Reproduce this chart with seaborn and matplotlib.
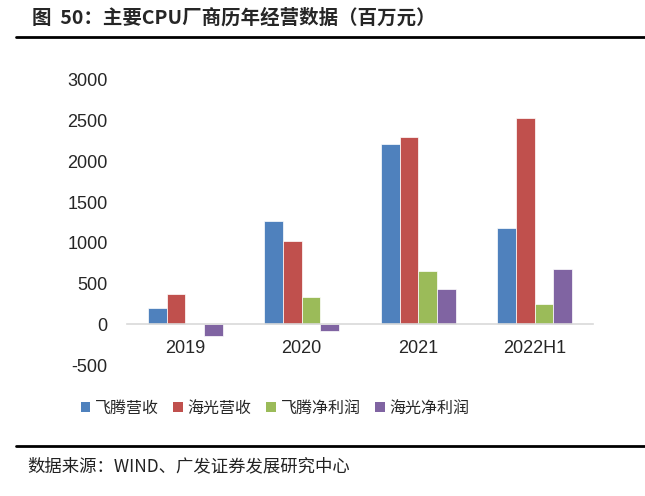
import numpy as np
import pandas as pd
import seaborn as sns
import matplotlib.pyplot as plt
from matplotlib.patches import Patch

# values in 百万元
periods = ["2019", "2020", "2021", "2022H1"]
series = ["飞腾营收", "海光营收", "飞腾净利润", "海光净利润"]
ft_rev = [200, 1270, 2210, 1180]
hg_rev = [375, 1020, 2300, 2530]
ft_np = [np.nan, 335, 650, 245]
hg_np = [-140, -85, 430, 680]
yticks = [-500, 0, 500, 1000, 1500, 2000, 2500, 3000]

colors = ["#4F81BD", "#C0504D", "#9BBB59", "#8064A2"]

sns.set_style("white")
plt.rcParams["font.family"] = ["Liberation Sans", "Noto Sans CJK SC", "DejaVu Sans"]

rows = []
for name, vals in zip(series, [ft_rev, hg_rev, ft_np, hg_np]):
    for p, v in zip(periods, vals):
        rows.append({"period": p, "series": name, "value": v})
df = pd.DataFrame(rows).dropna()

fig = plt.figure(figsize=(6.45, 4.96), dpi=100)
ax = fig.add_axes([127 / 645, 1 - 365 / 496, 466 / 645, 285 / 496])

sns.barplot(data=df, x="period", y="value", hue="series", order=periods,
            hue_order=series, palette=colors, saturation=1, width=0.64, ax=ax,
            edgecolor="white", linewidth=0.5, errorbar=None, legend=False)

ax.set_ylim(-500, 3000)
ax.set_xlim(-0.5, 3.5)
ax.set_yticks(yticks)
ax.set_yticklabels([str(t) for t in yticks], family="Liberation Sans")
ax.set_xticks(range(len(periods)))
ax.set_xticklabels(periods, family="Liberation Sans")
ax.set_xlabel("")
ax.set_ylabel("")
for s in ["left", "right", "top"]:
    ax.spines[s].set_visible(False)
ax.spines["bottom"].set_position(("data", 0))
ax.spines["bottom"].set_color("#D9D9D9")
ax.spines["bottom"].set_linewidth(1.2)
ax.tick_params(axis="y", length=0, pad=14, labelsize=13)
ax.tick_params(axis="x", length=0, pad=11, labelsize=13)

handles = [Patch(facecolor=c, edgecolor="none") for c in colors]
fig.legend(handles, series, loc="center", bbox_to_anchor=(275 / 645, 1 - 408 / 496),
           ncol=4, frameon=False, handlelength=0.6, handleheight=0.6,
           handletextpad=0.3, columnspacing=0.9,
           prop={"family": ["Noto Sans CJK SC"], "size": 11.5})

fig.text(32 / 645, 1 - 18 / 496, "图  50：主要CPU厂商历年经营数据（百万元）",
         fontsize=14, fontweight="bold", va="center", ha="left",
         family=["Noto Sans CJK SC", "DejaVu Sans"])
fig.add_artist(plt.Line2D([16 / 645, 1], [1 - 37 / 496] * 2, color="black", lw=2))
fig.add_artist(plt.Line2D([16 / 645, 1], [1 - 446 / 496] * 2, color="black", lw=2))
fig.text(27 / 645, 1 - 466 / 496, "数据来源：WIND、广发证券发展研究中心",
         fontsize=12.5, va="center", ha="left", color="#222222",
         family=["Noto Sans CJK SC", "DejaVu Sans"])

fig.savefig("out.png", dpi=100)
